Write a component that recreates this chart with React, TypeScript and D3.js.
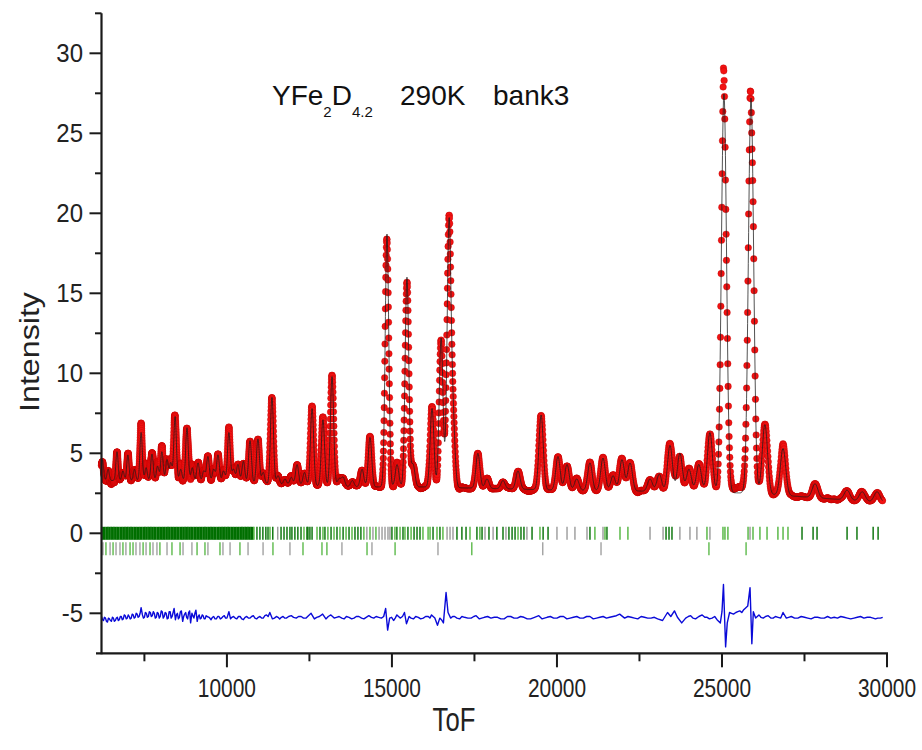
import React, { useMemo } from "react";
import * as d3 from "d3";

// ---------- data ----------
// Bragg peaks of the profile: position (ToF) and intensity at the peak top
const peakToF = [
  6230, 6400, 6670, 6850, 7000, 7200, 7400, 7550, 7730, 7900, 8030, 8185, 8300, 8430, 8600,
  8790, 8950, 9125, 9300, 9425, 9600, 9730, 9900, 10060, 10200, 10335, 10500, 10700, 10940,
  11100, 11365, 11550, 11760, 11950, 12125, 12350, 12580, 12910, 13185, 13400, 13520, 13800,
  14095, 14335, 14850, 15155, 15455, 15640, 16215, 16490, 16730, 16850, 17605, 17880, 18365,
  18820, 19520, 20030, 20305, 20600, 21000, 21395, 21700, 21970, 22215, 22820, 23100, 23425,
  23725, 24000, 24300, 24635, 25060, 25880, 26300, 26850, 27820, 28790, 29250, 29700,
];
const peakHeight = [
  4.6, 4.0, 5.1, 3.9, 4.9, 4.0, 6.3, 4.1, 4.95, 4.2, 5.1, 4.6, 4.4, 7.3, 4.0,
  6.6, 4.1, 4.4, 3.9, 4.8, 4.0, 4.9, 3.9, 6.3, 4.0, 4.3, 4.5, 5.8, 5.9,
  3.8, 8.5, 3.6, 3.4, 3.5, 4.3, 3.8, 7.8, 7.1, 9.8, 3.4, 3.5, 3.3,
  4.0, 6.0, 18.7, 4.3, 16.0, 4.3, 7.8, 12.2, 19.2, 7.0, 5.0, 3.4, 3.3,
  3.9, 7.4, 4.8, 4.3, 3.4, 4.4, 4.7, 3.6, 4.6, 4.4, 3.4, 3.7, 5.5,
  5.0, 4.0, 4.3, 6.3, 27.5, 27.2, 6.8, 5.3, 3.1, 2.7, 2.6, 2.6,
];
// Background level under the peaks
const bgToF = [6200, 8000, 10000, 12000, 14000, 16000, 18000, 20000, 22000, 24000, 26000, 28000, 30000];
const bgLevel = [3.3, 3.3, 3.2, 3.0, 2.9, 2.9, 2.8, 2.7, 2.65, 2.6, 2.5, 2.2, 1.9];

// Difference curve (obs - calc, shifted)
const diffToF = [
  6200, 6230, 6260, 6290, 6320, 6350, 6380, 6410, 6440, 6470, 6500, 6530, 6560, 6590, 6620, 6650,
  6680, 6710, 6740, 6770, 6800, 6830, 6860, 6890, 6920, 6950, 6980, 7010, 7040, 7070, 7100, 7130,
  7160, 7190, 7220, 7250, 7280, 7310, 7340, 7370, 7400, 7440, 7470, 7500, 7530, 7560, 7590, 7620,
  7650, 7680, 7710, 7740, 7770, 7800, 7830, 7860, 7890, 7920, 7950, 7980, 8010, 8040, 8070, 8100,
  8130, 8160, 8190, 8220, 8250, 8280, 8310, 8340, 8370, 8400, 8440, 8470, 8500, 8530, 8560, 8590,
  8620, 8660, 8690, 8720, 8750, 8780, 8810, 8840, 8870, 8900, 8940, 8970, 9000, 9030, 9060, 9100,
  9130, 9160, 9190, 9220, 9250, 9280, 9310, 9340, 9370, 9400, 9460, 9520, 9560, 9600, 9640, 9680,
  9720, 9760, 9800, 9840, 9880, 9920, 9960, 10000, 10060, 10110, 10150, 10200, 10250, 10300, 10350,
  10400, 10450, 10500, 10550, 10600, 10650, 10700, 10750, 10800, 10850, 10900, 10950, 11000, 11050,
  11100, 11150, 11200, 11250, 11300, 11380, 11440, 11500, 11550, 11600, 11650, 11700, 11750, 11800,
  11870, 11950, 12020, 12100, 12170, 12250, 12320, 12400, 12470, 12550, 12650, 12720, 12800, 12900,
  13000, 13070, 13150, 13250, 13320, 13400, 13480, 13550, 13620, 13700, 13780, 13850, 13920, 14000,
  14080, 14150, 14220, 14300, 14380, 14450, 14520, 14600, 14680, 14750, 14810, 14870, 14930, 14990,
  15050, 15100, 15150, 15250, 15320, 15380, 15440, 15520, 15580, 15650, 15720, 15800, 15870, 15950,
  16020, 16100, 16150, 16200, 16300, 16380, 16450, 16500, 16560, 16640, 16700, 16780, 16840, 16900,
  16970, 17050, 17120, 17200, 17300, 17400, 17480, 17550, 17650, 17720, 17800, 17900, 18000, 18100,
  18200, 18300, 18400, 18500, 18600, 18700, 18800, 18900, 19000, 19100, 19200, 19320, 19450, 19550,
  19620, 19700, 19800, 19900, 20000, 20100, 20200, 20300, 20400, 20500, 20600, 20700, 20800, 20900,
  21000, 21100, 21200, 21300, 21400, 21500, 21600, 21700, 21800, 21900, 22050, 22150, 22250, 22350,
  22450, 22550, 22650, 22750, 22850, 22950, 23050, 23200, 23350, 23450, 23560, 23650, 23780, 23900,
  23980, 24050, 24120, 24200, 24300, 24400, 24480, 24550, 24620, 24700, 24780, 24850, 24950, 25000,
  25045, 25110, 25160, 25230, 25290, 25350, 25420, 25480, 25540, 25600, 25650, 25700, 25780, 25850,
  25905, 25950, 26020, 26070, 26120, 26180, 26250, 26320, 26400, 26480, 26550, 26620, 26700, 26780,
  26850, 26950, 27020, 27100, 27200, 27300, 27400, 27500, 27600, 27700, 27800, 27900, 28000, 28100,
  28200, 28300, 28400, 28500, 28600, 28700, 28800, 28900, 29000, 29100, 29200, 29300, 29400, 29500,
  29580, 29650, 29720, 29800, 29870,
];
const diffValue = [
  -5.2, -5.4, -5.45, -5.25, -5.3, -5.5, -5.55, -5.3, -5.35, -5.45, -5.5, -5.25, -5.3, -5.5, -5.45, -5.3,
  -5.25, -5.45, -5.4, -5.2, -5.2, -5.4, -5.35, -5.1, -5.15, -5.35, -5.3, -5.1, -5.2, -5.35, -5.3, -5.05,
  -5.1, -5.3, -5.25, -5.0, -5.05, -5.25, -5.2, -5.0, -4.65, -5.1, -5.3, -5.25, -4.95, -5.0, -5.25, -5.2,
  -4.9, -4.95, -5.2, -5.15, -4.9, -5.0, -5.3, -5.25, -4.95, -5.0, -5.3, -5.2, -4.85, -4.9, -5.3, -5.2,
  -4.95, -5.0, -5.35, -5.3, -4.9, -4.9, -5.3, -5.2, -4.95, -4.7, -5.4, -5.1, -5.0, -5.35, -5.25, -4.9,
  -4.85, -5.5, -5.2, -5.05, -4.95, -5.25, -5.35, -4.95, -4.85, -5.6, -5.0, -5.15, -5.3, -5.0, -4.8, -5.5,
  -5.2, -5.1, -5.35, -5.3, -5.1, -5.15, -5.35, -5.35, -5.15, -5.2, -5.25, -5.4, -5.25, -5.2, -5.35, -5.35,
  -5.2, -5.2, -5.35, -5.3, -5.2, -5.15, -5.3, -5.3, -4.9, -5.35, -5.25, -5.2, -5.3, -5.35, -5.2,
  -5.2, -5.35, -5.4, -5.25, -5.2, -5.3, -5.3, -5.2, -5.15, -5.3, -5.35, -5.25, -5.2, -5.3,
  -5.3, -5.15, -5.1, -5.2, -4.95, -5.35, -5.3, -5.2, -5.25, -5.35, -5.25, -5.2, -5.3, -5.3,
  -5.2, -5.15, -5.25, -5.3, -5.2, -5.2, -5.3, -5.3, -5.15, -5.0, -5.35, -5.25, -5.2, -5.05,
  -5.35, -5.2, -5.1, -5.3, -5.25, -5.2, -5.3, -5.35, -5.2, -5.25, -5.35, -5.3, -5.2, -5.2,
  -5.3, -5.35, -5.25, -5.15, -5.25, -5.3, -5.2, -5.25, -5.3, -5.2, -4.7, -6.05, -5.3, -5.25,
  -5.45, -5.3, -5.1, -5.3, -5.2, -4.95, -5.65, -5.2, -5.3, -5.35, -5.2, -5.25, -5.35, -5.3,
  -5.2, -5.2, -5.3, -5.1, -5.3, -5.75, -5.3, -5.4, -5.6, -3.7, -4.95, -5.3, -5.2, -5.2,
  -5.3, -5.35, -5.2, -5.25, -5.3, -5.3, -5.2, -5.15, -5.35, -5.3, -5.25, -5.2, -5.3, -5.25,
  -5.25, -5.35, -5.35, -5.2, -5.2, -5.3, -5.3, -5.2, -5.25, -5.35, -5.35, -5.25, -5.15, -5.35,
  -5.3, -5.25, -5.2, -5.3, -5.3, -5.2, -5.2, -5.35, -5.3, -5.25, -5.2, -5.3, -5.3, -5.2,
  -5.2, -5.35, -5.3, -5.25, -5.2, -5.3, -5.25, -5.2, -5.15, -5.05, -5.3, -5.2, -5.25, -5.3,
  -5.35, -5.2, -5.25, -5.3, -5.3, -5.25, -5.35, -5.45, -4.95, -5.2, -4.85, -5.25, -5.6, -5.3,
  -5.2, -5.15, -5.3, -5.35, -5.2, -5.1, -5.25, -5.25, -5.35, -5.3, -5.2, -5.4, -5.6, -4.9,
  -3.2, -7.1, -5.6, -4.95, -5.0, -5.05, -4.95, -4.9, -4.85, -4.95, -4.8, -4.7, -4.55, -3.4,
  -6.9, -4.9, -5.3, -5.2, -5.1, -5.25, -5.3, -5.2, -5.15, -5.3, -5.3, -5.2, -5.25, -5.3,
  -4.95, -5.3, -5.25, -5.2, -5.3, -5.3, -5.2, -5.25, -5.3, -5.35, -5.25, -5.25, -5.3, -5.3,
  -5.2, -5.3, -5.25, -5.3, -5.2, -5.25, -5.3, -5.35, -5.3, -5.25, -5.2, -5.3, -5.25, -5.25,
  -5.3, -5.35, -5.3, -5.3, -5.25,
];
const diffBaseline = -5.25;

// Bragg reflection markers, first row (dense part, then individual reflections)
const braggRow1Dense = [
  6210, 6255, 6300, 6350, 6395, 6440, 6490, 6535, 6580, 6630, 6675, 6720, 6770, 6815, 6860, 6910,
  6955, 7000, 7050, 7095, 7140, 7190, 7235, 7280, 7330, 7375, 7420, 7470, 7515, 7560, 7610, 7655,
  7700, 7750, 7795, 7840, 7890, 7935, 7980, 8030, 8075, 8120, 8170, 8215, 8260, 8310, 8355, 8400,
  8450, 8495, 8540, 8590, 8635, 8680, 8730, 8775, 8820, 8870, 8915, 8960, 9010, 9055, 9100, 9150,
  9195, 9240, 9290, 9335, 9380, 9430, 9475, 9520, 9570, 9615, 9660, 9710, 9755, 9800, 9850, 9895,
  9940, 9990, 10035, 10080, 10130, 10175, 10220, 10270, 10315, 10360, 10410, 10455, 10500, 10550,
  10595, 10640, 10690, 10735, 10780,
];
const braggRow1 = [
  10820, 10910, 11000, 11090, 11180, 11245, 11305, 11390, 11540, 11640, 11730, 11820, 11910, 11970,
  12060, 12150, 12245, 12335, 12425, 12455, 12515, 12580, 12730, 12820, 12910, 12970, 13060, 13155,
  13245, 13335, 13425, 13520, 13610, 13700, 13790, 13880, 13970, 14060, 14150, 14240, 14335, 14425,
  14515, 14610, 14700, 14790, 14880, 14940, 15000, 15090, 15150, 15245, 15335, 15395, 15485, 15580,
  15670, 15760, 15850, 15940, 16095, 16155, 16245, 16365, 16455, 16545, 16670, 16760, 16850, 16970,
  17120, 17245, 17365, 17575, 17665, 17730, 17820, 17940, 18065, 18180, 18365, 18455, 18545, 18640,
  18730, 18820, 18910, 19000, 19090, 19245, 19485, 19580, 19730, 20000, 20305, 20545, 20910, 21000,
  21150, 21395, 21455, 21515, 21910, 22150, 22820, 23215, 23305, 23395, 23485, 23725, 24030, 24240,
  24545, 24635, 25030, 25090, 25180, 25790, 25850, 25940, 26150, 26365, 26695, 26850, 27000, 27425,
  27760, 27880, 28790, 29090, 29580, 29730,
];
// d = dark green, l = light green, g = grey
const braggRow1Kind =
  "ldddddldgddddddddlddddldldldldldldldddlglglgggggdldldldldddllldldlggg" +
  "dddldldgdgddgdddlddgdlddggggdlgldllggdddggglgllllgllllll";
const braggRow2 = [
  6245, 6335, 6460, 6550, 6640, 6760, 6850, 6940, 7065, 7155, 7245, 7365, 7460, 7550, 7670, 7760,
  7880, 7970, 8185, 8335, 8580, 8670, 8940, 9095, 9335, 9425, 9790, 9880, 10095, 10395, 10640,
  11095, 11395, 11910, 12305, 12880, 13030, 13485, 14245, 14395, 15095, 16395, 17420, 19570,
  21335, 24605, 25730,
];
const braggRow2Kind = "glglgglgllgglglgglgllggllglgglgglglllglglglgglll";

const xMajorTicks = [10000, 15000, 20000, 25000, 30000];
const xMinorTicks = [7500, 12500, 17500, 22500, 27500];
const yMajorTicks = [-5, 0, 5, 10, 15, 20, 25, 30];
const yMinorTicks = [-2.5, 2.5, 7.5, 12.5, 17.5, 22.5, 27.5, 32.5];

// instrument resolution: FWHM = A + B * ToF
const RES_A = 45;
const RES_B = 0.0055;
const CHANNEL_STEP = 0.0004; // dt / t of the time channels

const FONT = "'Liberation Sans', Arial, Helvetica, sans-serif";
const kindColor: Record<string, string> = { d: "#006f00", l: "#4fb43c", g: "#9a9a9a" };

export default function App() {
  const W = 922;
  const H = 750;
  const x = d3.scaleLinear().domain([6200, 30000]).range([101.5, 887]);
  const y = d3.scaleLinear().domain([-7.5, 32.5]).range([653.3, 13.3]);

  const { calc, obs } = useMemo(() => {
    const bg = d3.scaleLinear().domain(bgToF).range(bgLevel);
    const diff = d3.scaleLinear().domain(diffToF).range(diffValue).clamp(true);
    const amps = peakToF.map((p, i) => peakHeight[i] - bg(p));
    const sig = peakToF.map((p) => (RES_A + RES_B * p) / 2.355);
    const channels: number[] = [];
    for (let t = 6200; t <= 29870; t *= 1 + CHANNEL_STEP) channels.push(t);
    const calc = channels.map((t) => {
      let v = bg(t);
      for (let i = 0; i < peakToF.length; i++) {
        const z = (t - peakToF[i]) / sig[i];
        if (Math.abs(z) < 6) v += amps[i] * Math.exp(-0.5 * z * z);
      }
      return [t, v] as [number, number];
    });
    const obs = calc.map(([t, v]) => [t, v + diff(t) - diffBaseline] as [number, number]);
    return { calc, obs };
  }, []);

  const line = d3
    .line<[number, number]>()
    .x((d) => x(d[0]))
    .y((d) => y(d[1]));
  const diffPts = diffToF.map((t, i) => [t, diffValue[i]] as [number, number]);

  const y0 = y(0);
  const axisColor = "#1a1a1a";

  return (
    <svg
      width={W}
      height={H}
      viewBox={`0 0 ${W} ${H}`}
      style={{ position: "absolute", left: 0, top: 0, background: "#fff" }}
    >
      <rect x={0} y={0} width={W} height={H} fill="#fff" />

      {/* observed points */}
      <g>
        {obs.map((d, i) => (
          <circle
            key={i}
            cx={x(d[0])}
            cy={y(d[1])}
            r={3.3}
            fill="#f21212"
            stroke="#b40000"
            strokeWidth={0.35}
          />
        ))}
      </g>
      {/* calculated profile */}
      <path d={line(calc) || ""} fill="none" stroke="#1c1c1c" strokeWidth={0.9} strokeOpacity={0.85} />

      {/* Bragg markers */}
      <g>
        {braggRow1Dense.map((t, i) => (
          <line key={"dd" + i} x1={x(t)} x2={x(t)} y1={y0 - 6.5} y2={y0 + 6.5} stroke="#006f00" strokeWidth={1.8} />
        ))}
        {braggRow1.map((t, i) => (
          <line
            key={"b1" + i}
            x1={x(t)}
            x2={x(t)}
            y1={y0 - 6.5}
            y2={y0 + 6.5}
            stroke={kindColor[braggRow1Kind[i] || "d"]}
            strokeWidth={1.4}
          />
        ))}
        {braggRow2.map((t, i) => (
          <line
            key={"b2" + i}
            x1={x(t)}
            x2={x(t)}
            y1={y0 + 9}
            y2={y0 + 22}
            stroke={kindColor[braggRow2Kind[i] || "g"]}
            strokeWidth={1.3}
          />
        ))}
      </g>

      {/* difference curve */}
      <path d={line(diffPts) || ""} fill="none" stroke="#0a0ad8" strokeWidth={1.4} strokeLinejoin="round" />

      {/* axes */}
      <line x1={96} x2={888} y1={y(-7.5)} y2={y(-7.5)} stroke={axisColor} strokeWidth={2.2} />
      <line x1={x(6200)} x2={x(6200)} y1={y(32.5)} y2={y(-7.5) + 1} stroke={axisColor} strokeWidth={2.2} />
      {xMajorTicks.map((t) => (
        <g key={"xm" + t}>
          <line x1={x(t)} x2={x(t)} y1={y(-7.5)} y2={y(-7.5) + 14} stroke={axisColor} strokeWidth={2} />
          <text
            transform={`translate(${x(t)},697) scale(0.95,1.2)`}
            textAnchor="middle"
            fontFamily={FONT}
            fontSize={22}
            fill="#222"
          >
            {t}
          </text>
        </g>
      ))}
      {xMinorTicks.map((t) => (
        <line key={"xn" + t} x1={x(t)} x2={x(t)} y1={y(-7.5)} y2={y(-7.5) + 8} stroke={axisColor} strokeWidth={2} />
      ))}
      {yMajorTicks.map((v) => (
        <g key={"ym" + v}>
          <line x1={x(6200) - 12} x2={x(6200)} y1={y(v)} y2={y(v)} stroke={axisColor} strokeWidth={2} />
          <text
            transform={`translate(83,${y(v) + 8.7}) scale(1,1.1)`}
            textAnchor="end"
            fontFamily={FONT}
            fontSize={24}
            fill="#222"
          >
            {v}
          </text>
        </g>
      ))}
      {yMinorTicks.map((v) => (
        <line key={"yn" + v} x1={x(6200) - 6.5} x2={x(6200)} y1={y(v)} y2={y(v)} stroke={axisColor} strokeWidth={2} />
      ))}

      {/* axis titles */}
      <text
        transform="translate(39,352) rotate(-90) scale(1.15,1)"
        textAnchor="middle"
        fontFamily={FONT}
        fontSize={28}
        fill="#222"
      >
        Intensity
      </text>
      <text
        transform="translate(454,731) scale(0.95,1.25)"
        textAnchor="middle"
        fontFamily={FONT}
        fontSize={27}
        fill="#222"
      >
        ToF
      </text>

      {/* annotation */}
      <text x={272} y={105} fontFamily={FONT} fontSize={28} fill="#111">
        YFe
        <tspan dy={12} fontSize={15}>2</tspan>
        <tspan dy={-12} fontSize={28}>D</tspan>
        <tspan dy={12} fontSize={15}>4.2</tspan>
      </text>
      <text x={400} y={105} fontFamily={FONT} fontSize={28} fill="#111">
        290K
      </text>
      <text x={493} y={105} fontFamily={FONT} fontSize={28} fill="#111">
        bank3
      </text>
    </svg>
  );
}
